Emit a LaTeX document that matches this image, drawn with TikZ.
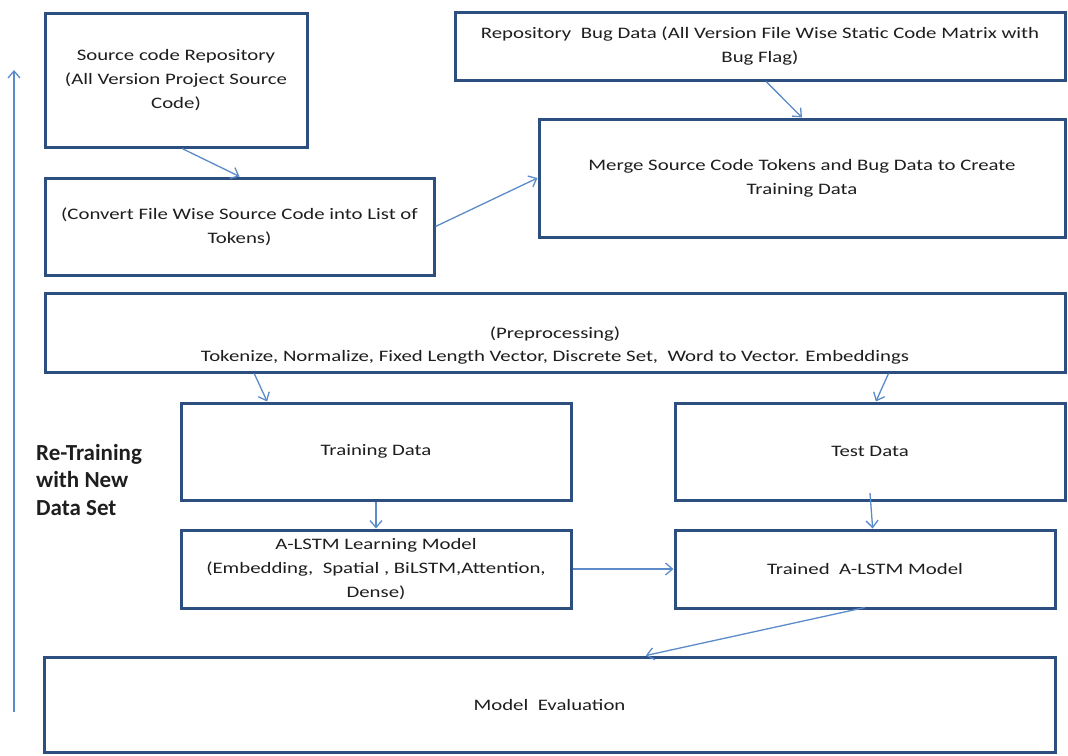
\documentclass[tikz,border=0pt]{standalone}
\usepackage{fontspec}
\usetikzlibrary{arrows.meta,calc}
\newfontfamily\boxfont{Carlito}[FakeStretch=1.3]
\newfontfamily\sidefont{Carlito}
\definecolor{boxline}{HTML}{2C4F80}
\definecolor{flow}{HTML}{5B8BC9}
\definecolor{ink}{HTML}{1E1E1E}
\tikzset{
  x=1pt, y=-1pt,
  stage/.style={draw=boxline, line width=3pt, fill=white, inner sep=0pt,
    align=center, text=ink, font=\boxfont\fontsize{16}{24}\selectfont},
  caption/.style={inner sep=0pt, align=center, text=ink,
    font=\boxfont\fontsize{16}{23}\selectfont},
  flowarrow/.style={draw=flow, line width=1.3pt,
    -{Straight Barb[length=7pt,width=12pt,line width=1.3pt]}},
}
\begin{document}
\begin{tikzpicture}
\useasboundingbox (0,0) rectangle (1068,755);

% upper row: sources and merging
\node[stage, minimum width=262, minimum height=134] (repo) at (176,80)
  {Source code Repository\\(All Version Project Source\\Code)};
\node[stage, minimum width=389, minimum height=97] (tokens) at (239.5,226.5)
  {(Convert File Wise Source Code into List of\\Tokens)};
\node[stage, minimum width=610, minimum height=68] (bugs) at (760,46)
  {Repository\ \ Bug Data (All Version File Wise Static Code Matrix with\\Bug Flag)};
\node[stage, minimum width=526, minimum height=118] (merge) at (802,178)
  {Merge Source Code Tokens and Bug Data to Create\\Training Data};

% preprocessing stage, its text sits a little below the middle
\node[stage, minimum width=1020, minimum height=79] (prep) at (555,332.5) {};
\node[caption] (prepText) at (555,346)
  {(Preprocessing)\\Tokenize, Normalize, Fixed Length Vector, Discrete Set,\ \ Word to Vector. Embeddings};

% training / testing
\node[stage, minimum width=390, minimum height=97] (train) at (376,451.5) {Training Data};
\node[stage, minimum width=390, minimum height=97] (test) at (870,451.5) {Test Data};
\node[stage, minimum width=390, minimum height=78] (alstm) at (376,569)
  {A-LSTM Learning Model\\(Embedding,\ \ Spatial , BiLSTM,Attention,\\Dense)};
\node[stage, minimum width=380, minimum height=78] (trained) at (865,569)
  {Trained\ \ A-LSTM Model};
\node[stage, minimum width=1011, minimum height=95] (eval) at (549.5,704.5)
  {Model\ \ Evaluation};

% retraining loop label
\node[inner sep=0pt, align=left, anchor=west, text=ink,
  font=\sidefont\bfseries\fontsize{23}{27.5}\selectfont] (retrain) at (36,480)
  {Re-Training\\with New\\Data Set};
\coordinate (loopBottom) at (14,712);
\coordinate (loopTop) at (14,70);

% connectors
\draw[flowarrow] ($(repo.south west)!0.523!(repo.south east)$) -- (tokens.north);
\draw[flowarrow] (tokens.east) -- (merge.west);
\draw[flowarrow] ($(bugs.south west)!0.51!(bugs.south east)$) -- (merge.north);
\draw[flowarrow] ($(prep.south west)!0.206!(prep.south east)$) -- ($(train.north west)!0.223!(train.north east)$);
\draw[flowarrow] ($(prep.south west)!0.826!(prep.south east)$) -- ($(test.north west)!0.515!(test.north east)$);
\draw[flowarrow] (train.south) -- (alstm.north);
\draw[flowarrow] ($(test.center)!0.83!(test.south)$) -- ($(trained.north west)!0.52!(trained.north east)$);
\draw[flowarrow] (alstm.east) -- (trained.west);
\draw[flowarrow] ($(trained.center)!0.95!(trained.south)$) -- ($(eval.north west)!0.595!(eval.north east)$);
\draw[flowarrow] (loopBottom) -- (loopTop);
\end{tikzpicture}
\end{document}
